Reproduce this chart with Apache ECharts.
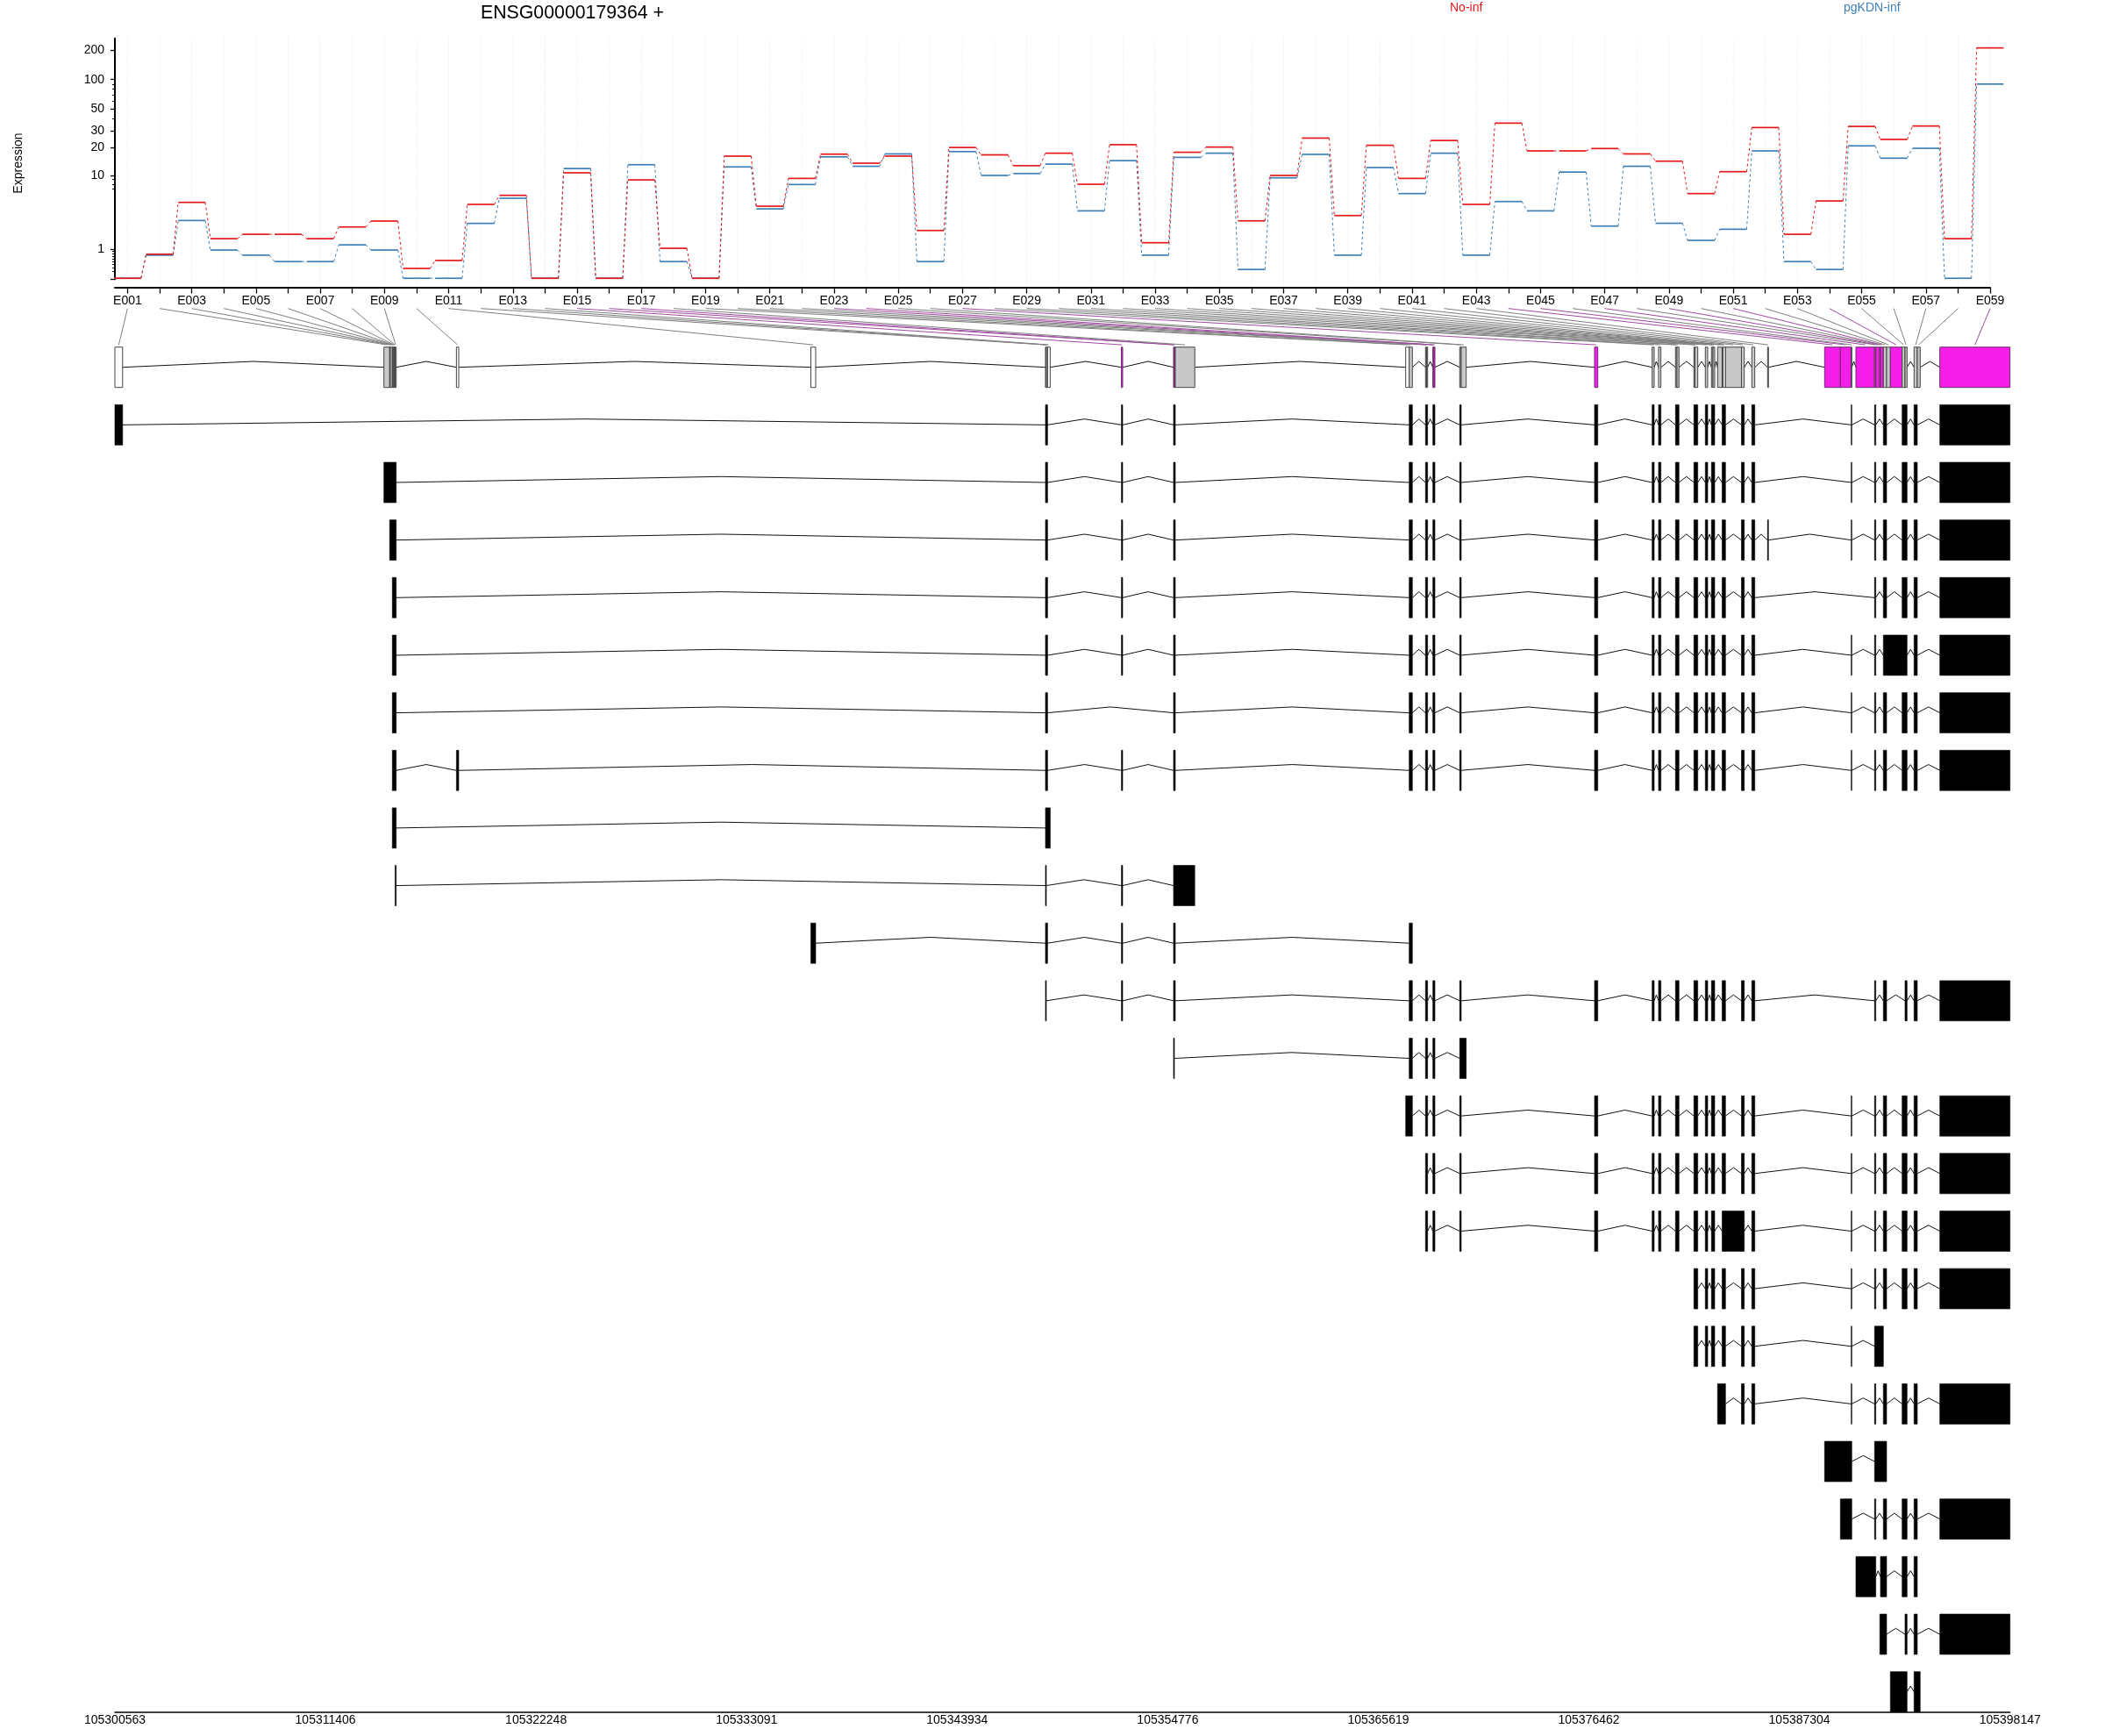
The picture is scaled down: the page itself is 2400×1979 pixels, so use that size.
<!DOCTYPE html>
<html><head><meta charset="utf-8">
<style>html,body{margin:0;padding:0;background:#fff}#c{width:2400px;height:1979px}</style>
<script src="https://cdn.jsdelivr.net/npm/echarts@6/dist/echarts.min.js"></script>
</head><body><div id="c"></div>
<script>
const FONT = '"Liberation Sans", Arial, sans-serif';
const geneId = 'ENSG00000179364 +';
const conditions = ['No-inf', 'pgKDN-inf'];
const exonIds = Array.from({length:59}, (_, i) => 'E' + String(i + 1).padStart(3, '0'));

// normalised expression per exon bin, E001..E059
const noInf = [0.02,0.78,4.9,1.55,1.82,1.82,1.55,2.34,2.83,0.28,0.54,4.63,5.94,0.02,10.7,0.02,8.93,1.04,0.02,16.2,
  4.4,9.27,17,13.6,16.2,2.08,20,16.7,12.8,17.4,7.97,21.4,1.32,17.8,20.2,2.85,10,25.1,3.35,21.1,
  9.27,23.7,4.63,35.9,18.4,18.4,19.5,17.1,14.3,6.23,11,32.3,1.82,5.1,33.2,24.3,33.5,1.55,209];
const pgKdnInf = [0.02,0.74,2.88,0.96,0.74,0.5,0.5,1.21,0.96,0.02,0.02,2.63,5.49,0.02,11.9,0.02,13.1,0.5,0.02,12.4,
  4.08,7.92,15.9,12.6,17.1,0.5,18.1,10,10.5,13.3,3.85,14.5,0.74,15.7,17.4,0.25,9.41,16.9,0.74,12.2,
  6.23,17.4,0.74,5.02,3.85,10.9,2.41,12.6,2.64,1.45,2.17,18.4,0.5,0.25,20.8,15.4,19.6,0.02,90];

const yLabelTicks = [0,1,10,20,30,50,100,200];
const yMinorTicks = [0.2,0.3,0.4,0.5,0.6,0.7,0.8,0.9,7,8,9,40,60,70,80,90];

// genomic axis
const geneStart = 105300563, geneEnd = 105398147;
const genomicTicks = [105300563,105311406,105322248,105333091,105343934,105354776,105365619,105376462,105387304,105398147];

// exon bin bounds, bp after geneStart
const binStart = [0,13851,14150,14181,14285,14317,14362,14393,14430,17586,35837,47918,47963,48026,51829,54512,54557,54602,66466,66647,
  67487,67541,67866,67925,69248,69325,76190,79157,79487,80359,80435,81307,81361,81894,82210,82287,82526,82761,82815,82933,
  83755,84288,85101,88036,88849,89409,89649,90610,90673,90881,90913,91062,91229,91423,92029,92178,92643,92810,93971];
const binEnd = [397,14150,14181,14285,14317,14362,14393,14430,14484,17704,36085,47963,48026,48162,51892,54557,54602,55605,66647,66810,
  67541,67595,67925,67970,69325,69582,76357,79261,79609,80435,80539,81361,81506,82016,82287,82377,82761,82815,82933,83755,
  83900,84442,85146,88849,89409,89436,90610,90673,90881,90913,91062,91229,91423,92029,92178,92282,92810,92959,97584];

const significantBins = [15,16,17,23,24,27,44,45,47,49,51,54,59];
const whiteBins = [1,10,11,14,19,39];

// shared runs of exons, as [first bin, last bin]
const left = [[12,13],[15],[16,17]];
const abcd = [[20],[21,22],[23,24],[25]];
const mid = [[27],[28],[29],[30,31],[32,33],[34],[35,36],[38,39],[41],[42]];
const end = [[46],[48],[52],[55,56],[57],[59]];

const transcripts = [
  [[1],...left,...abcd,...mid,...end],
  [[2,9],...left,...abcd,...mid,...end],
  [[3,9],...left,...abcd,...mid,[43],...end],
  [[5,9],...left,...abcd,...mid,[48],[52],[55,56],[57],[59]],
  [[5,9],...left,...abcd,...mid,[46],[48],[52,56],[57],[59]],
  [[5,9],[12,13],[16,17],...abcd,...mid,...end],
  [[5,9],[10],...left,...abcd,...mid,...end],
  [[5,9],[12,14]],
  [[9],[12],[15],[16,18]],
  [[11],...left,[20]],
  [[12],[15],[16,17],...abcd,...mid,[48],[52],[56],[57],[59]],
  [[16],[20],[21,22],[23,24],[25,26]],
  [[19,20],[21,22],[23,24],[25],...mid,...end],
  [[21,22],[23,24],[25],...mid,...end],
  [[21,22],[23,24],[25],[27],[28],[29],[30,31],[32,33],[34],[35,36],[38,41],[42],...end],
  [[32,33],[34],[35,36],[38,39],[41],[42],...end],
  [[32,33],[34],[35,36],[38,39],[41],[42],[46],[48,51]],
  [[37,39],[41],[42],...end],
  [[44,46],[48,52]],
  [[45,46],[48],[52],[55,56],[57],[59]],
  [[47,48],[51,52],[55,56],[57]],
  [[50,52],[56],[57],[59]],
  [[54,56],[57,58]]
];

// ---- derived tables
const toAxis = v => Math.log10(v + 1);
const bp = off => geneStart + off;
const stepTable = vals => vals.map((v, i) => [i + 1, toAxis(v), i < vals.length - 1 ? toAxis(vals[i + 1]) : null]);

const exonRows = [], intronRows = [];
function addIntrons(list, row) {
  for (let i = 0; i < list.length - 1; i++)
    if (list[i + 1][0] > list[i][1]) intronRows.push([list[i][1], list[i + 1][0], row]);
}
const metaIntervals = binStart.map((s, i) => {
  const n = i + 1;
  exonRows.push([bp(s), bp(binEnd[i]), 0, significantBins.includes(n) ? 2 : whiteBins.includes(n) ? 0 : 1]);
  return [bp(s), bp(binEnd[i])];
});
addIntrons(metaIntervals, 0);
transcripts.forEach((t, k) => {
  const iv = t.map(r => [bp(binStart[r[0] - 1]), bp(binEnd[r[r.length - 1] - 1])]);
  iv.forEach(x => exonRows.push([x[0], x[1], k + 1, 3]));
  addIntrons(iv, k + 1);
});
const linkRows = binStart.map((s, i) => [i + 1, bp((s + binEnd[i]) / 2), significantBins.includes(i + 1) ? 1 : 0]);
const guideRows = exonIds.map((_, i) => [i + 1, significantBins.includes(i + 1) ? 1 : 0]);

const chart = echarts.init(document.getElementById('c'), null, {renderer: 'canvas', width: 2400, height: 1979});

const HALF = 0.42;
function stepSeries(name, color, z) {
  return {
    type: 'custom', name, xAxisIndex: 0, yAxisIndex: 0, z, clip: false, silent: true,
    data: stepTable(name === conditions[0] ? noInf : pgKdnInf),
    encode: {x: 0, y: 1},
    renderItem(params, api) {
      const i = api.value(0), y = api.value(1), ny = api.value(2);
      const a = api.coord([i - HALF, y]), b = api.coord([i + HALF, y]);
      const kids = [{type: 'line', shape: {x1: a[0], y1: a[1], x2: b[0], y2: b[1]},
        style: {stroke: color, lineWidth: 1.7}}];
      if (i < exonIds.length) {
        const c = api.coord([i + 1 - HALF, ny]);
        kids.push({type: 'line', shape: {x1: b[0], y1: b[1], x2: c[0], y2: c[1]},
          style: {stroke: color, lineWidth: 1, lineDash: [3, 3]}});
      }
      return {type: 'group', children: kids};
    }
  };
}

const EXON_H = 0.35, PEAK = 0.102;
const fills = ['#ffffff', '#c8c8c8', '#f41ee8', '#000000'];
const strokes = ['#444444', '#444444', '#6d2a6d', '#000000'];

chart.setOption({
  animation: false,
  backgroundColor: '#fff',
  textStyle: {fontFamily: FONT},
  grid: [
    {left: 131, top: 43.7, width: 2138, height: 274.5, containLabel: false},
    {left: 131, top: 351.7, width: 2160.7, height: 1600, containLabel: false}
  ],
  xAxis: [
    {type: 'value', gridIndex: 0, min: 0.607, max: 59, position: 'bottom', offset: 9.8,
      axisLine: {show: true, onZero: false, lineStyle: {color: '#000', width: 2}},
      axisTick: {show: true, length: 6.5, customValues: exonIds.map((_, i) => i + 1), lineStyle: {color: '#000', width: 1.3}},
      axisLabel: {show: true, customValues: exonIds.map((_, i) => i + 1).filter(n => n % 2 === 1),
        formatter: v => exonIds[Math.round(v) - 1], fontSize: 14, color: '#000', margin: 8, fontFamily: FONT},
      splitLine: {show: false}},
    {type: 'value', gridIndex: 1, min: geneStart, max: geneEnd, position: 'bottom',
      axisLine: {show: true, onZero: false, lineStyle: {color: '#000', width: 1.5}},
      axisTick: {show: false},
      axisLabel: {show: true, customValues: genomicTicks, formatter: v => String(v), fontSize: 14, color: '#000', margin: 2, fontFamily: FONT},
      splitLine: {show: false}}
  ],
  yAxis: [
    {type: 'value', gridIndex: 0, min: 0, max: 2.4185, position: 'left',
      axisLine: {show: true, onZero: false, lineStyle: {color: '#000', width: 2}},
      axisTick: {show: true, length: 5, customValues: yLabelTicks.map(toAxis), lineStyle: {color: '#000', width: 1.3}},
      axisLabel: {show: true, customValues: yLabelTicks.slice(1).map(toAxis),
        formatter: v => String(Math.round(Math.pow(10, v) - 1)), fontSize: 14, color: '#000', margin: 12, fontFamily: FONT},
      splitLine: {show: false}},
    {type: 'value', gridIndex: 0, min: 0, max: 2.4185, position: 'left', offset: 0,
      axisLine: {show: false},
      axisTick: {show: true, length: 3, customValues: yMinorTicks.map(toAxis), lineStyle: {color: '#000', width: 1}},
      axisLabel: {show: false}, splitLine: {show: false}},
    {type: 'value', gridIndex: 1, inverse: true, min: -1.0206, max: 23.351, show: false}
  ],
  series: [
    {type: 'custom', name: 'guides', xAxisIndex: 0, yAxisIndex: 0, z: 1, clip: false, silent: true,
      data: guideRows, encode: {x: 0},
      renderItem(params, api) {
        const a = api.coord([api.value(0), 2.4185]), b = api.coord([api.value(0), 0]);
        return {type: 'line', shape: {x1: a[0], y1: a[1], x2: b[0], y2: b[1] + 9.8},
          style: {stroke: api.value(1) ? '#f8d8f8' : '#e8e8e8', lineWidth: 1, lineDash: [1, 2]}};
      }},
    stepSeries(conditions[1], '#3f7fb5', 3),
    stepSeries(conditions[0], '#e41a1c', 4),
    {type: 'custom', name: 'links', xAxisIndex: 1, yAxisIndex: 2, z: 2, clip: false, silent: true,
      data: linkRows, encode: {x: 1},
      renderItem(params, api) {
        const topX = chart.convertToPixel({xAxisIndex: 0}, api.value(0));
        const b = api.coord([api.value(1), -0.39]);
        const t = api.coord([api.value(1), -1.0206]);
        return {type: 'line', shape: {x1: topX, y1: t[1], x2: b[0], y2: b[1]},
          style: {stroke: api.value(2) ? '#a04ca0' : '#808080', lineWidth: 1}};
      }},
    {type: 'custom', name: 'introns', xAxisIndex: 1, yAxisIndex: 2, z: 5, clip: false, silent: true,
      data: intronRows, encode: {x: [0, 1], y: 2},
      renderItem(params, api) {
        const s = api.value(0), e = api.value(1), r = api.value(2);
        const pts = [api.coord([s, r]), api.coord([(s + e) / 2, r - PEAK]), api.coord([e, r])];
        return {type: 'polyline', shape: {points: pts}, style: {fill: null, stroke: '#111111', lineWidth: 1}};
      }},
    {type: 'custom', name: 'exons', xAxisIndex: 1, yAxisIndex: 2, z: 6, clip: false, silent: true,
      data: exonRows, encode: {x: [0, 1], y: 2},
      renderItem(params, api) {
        const s = api.value(0), e = api.value(1), r = api.value(2), k = api.value(3);
        const a = api.coord([s, r - EXON_H]), b = api.coord([e, r + EXON_H]);
        return {type: 'rect', shape: {x: a[0], y: a[1], width: b[0] - a[0], height: b[1] - a[1]},
          style: {fill: fills[k], stroke: strokes[k], lineWidth: k === 3 ? 0.6 : 1}};
      }}
  ],
  graphic: [
    {type: 'text', x: 548, y: 15, style: {text: geneId, font: '21.3px ' + FONT, fill: '#000', textVerticalAlign: 'middle'}},
    {type: 'text', x: 1653, y: 8.7, style: {text: conditions[0], font: '14px ' + FONT, fill: '#e41a1c', textVerticalAlign: 'middle'}},
    {type: 'text', x: 2102, y: 8.7, style: {text: conditions[1], font: '14px ' + FONT, fill: '#3f7fb5', textVerticalAlign: 'middle'}},
    {type: 'text', x: 21, y: 186, rotation: Math.PI / 2, style: {text: 'Expression', font: '14px ' + FONT, fill: '#000', textAlign: 'center', textVerticalAlign: 'middle'}}
  ]
});
</script></body></html>
